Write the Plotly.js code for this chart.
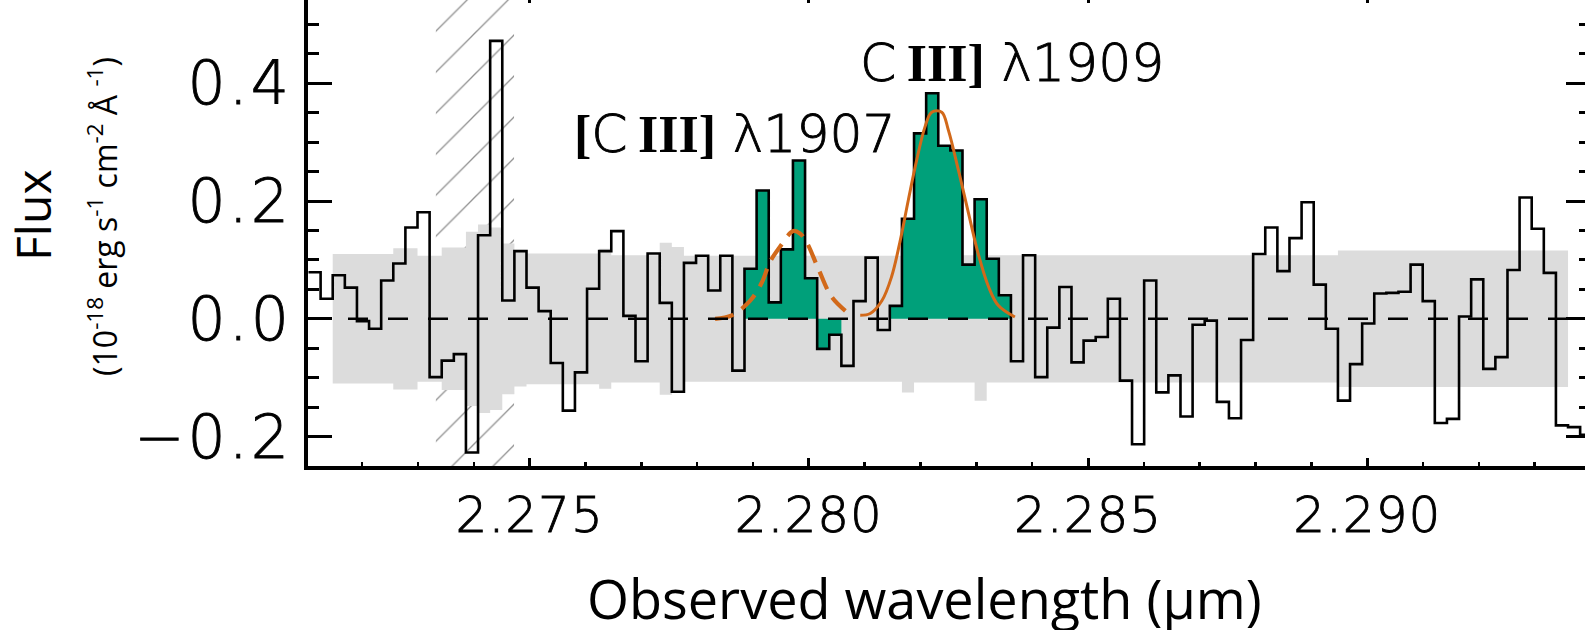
<!DOCTYPE html>
<html><head><meta charset="utf-8">
<script src="https://cdn.plot.ly/plotly-3.0.1.min.js"></script>
<style>
html,body{margin:0;padding:0;overflow:hidden;background:#fff;width:1585px;height:630px;}
#plot{position:absolute;left:0;top:-20px;width:1610px;height:680px;}
.ytick text{stroke:#000;stroke-width:0.9px;letter-spacing:3px;}
.xtick text{stroke:#000;stroke-width:0.9px;letter-spacing:1px;}
</style></head><body><div id="plot"></div>
<script>
// Spectral pixel grid (left edge of first pixel, and dispersion), µm
const waveStart = 2.271039;
const dispersion = 0.0002169;

// Flux per spectral pixel (10^-18 erg s^-1 cm^-2 Å^-1)
const flux = [
 0.079, 0.034, 0.074, 0.053,-0.004,-0.017, 0.065, 0.094, 0.155, 0.181,
-0.099,-0.071,-0.060,-0.227, 0.142, 0.472, 0.031, 0.115, 0.053, 0.013,
-0.075,-0.156,-0.091, 0.051, 0.115, 0.149, 0.005,-0.072, 0.111, 0.027,
-0.124, 0.095, 0.107, 0.048, 0.107,-0.088, 0.085, 0.218, 0.028, 0.118,
 0.269, 0.069,-0.051,-0.027,-0.080, 0.030, 0.104,-0.019, 0.022, 0.170,
 0.315, 0.383, 0.294, 0.286, 0.092, 0.203, 0.102, 0.040,-0.072, 0.108,
-0.099,-0.015, 0.054,-0.074,-0.037,-0.031, 0.034,-0.105,-0.213, 0.065,
-0.125,-0.096,-0.166,-0.010,-0.003,-0.141,-0.169,-0.036, 0.110, 0.155,
 0.081, 0.137, 0.198, 0.058,-0.017,-0.139,-0.077,-0.008, 0.043, 0.044,
 0.046, 0.092, 0.030,-0.177,-0.170, 0.004, 0.067,-0.085,-0.065, 0.083,
 0.206, 0.153, 0.078,-0.181,-0.184,-0.197
];

// 1-sigma noise per spectral pixel (null = not drawn)
const sigma = [
 null, null, 0.110, 0.110, 0.110, 0.110, 0.110, 0.120, 0.120, 0.107,
 0.107, 0.121, 0.121, 0.148, 0.160, 0.155, 0.128, 0.115, 0.111, 0.111,
 0.111, 0.111, 0.111, 0.111, 0.119, 0.108, 0.108, 0.108, 0.108, 0.129,
 0.122, 0.107, 0.107, 0.107, 0.107, 0.107, 0.107, 0.107, 0.107, 0.107,
 0.107, 0.107, 0.107, 0.107, 0.107, 0.107, 0.107, 0.107, 0.107, 0.125,
 0.108, 0.108, 0.108, 0.108, 0.108, 0.139, 0.108, 0.108, 0.108, 0.108,
 0.108, 0.108, 0.108, 0.108, 0.108, 0.108, 0.108, 0.108, 0.108, 0.108,
 0.108, 0.108, 0.108, 0.108, 0.108, 0.108, 0.108, 0.108, 0.108, 0.108,
 0.108, 0.108, 0.108, 0.108, 0.108, 0.116, 0.116, 0.116, 0.116, 0.116,
 0.116, 0.116, 0.116, 0.116, 0.116, 0.116, 0.116, 0.116, 0.116, 0.116,
 0.116, 0.116, 0.116, 0.116, null, null
];
const sigmaBins = [3, 104];

// Pixels attributed to the emission lines (1-based, inclusive)
const lineBins1907 = [37, 44];
const lineBins1909 = [49, 58];

// Gaussian fits
const fit1907Wave = [2.27832, 2.27862, 2.27895, 2.27916, 2.27930, 2.27948, 2.27972, 2.27984, 2.27996, 2.28017, 2.28041, 2.28071];
const fit1907Flux = [0.000, 0.006, 0.031, 0.062, 0.096, 0.122, 0.149, 0.145, 0.130, 0.085, 0.037, 0.009];
const fit1909Wave = [2.28092, 2.28110, 2.28131, 2.28148, 2.28163, 2.28178, 2.28193, 2.28208, 2.28220, 2.28238, 2.28250, 2.28268, 2.28286, 2.28304, 2.28322, 2.28339, 2.28369];
const fit1909Flux = [0.006, 0.009, 0.031, 0.071, 0.130, 0.201, 0.269, 0.326, 0.351, 0.351, 0.320, 0.252, 0.179, 0.108, 0.054, 0.023, 0.003];

// Masked (sky) region
const maskWave = [2.27332, 2.27472];

// Axes
const xRange = [2.27103, 2.29399];
const yRange = [-0.25, 0.55];
const xTickVals = [2.275, 2.280, 2.285, 2.290];
const xTickText = ['2.275', '2.280', '2.285', '2.290'];
const yTickVals = [-0.2, 0.0, 0.2, 0.4];
const yTickText = ['\u22120.2', '0.0', '0.2', '0.4'];

// Labels
const serif = 'font-family:Liberation Serif;font-weight:bold;stroke-width:0';
const lineLabelText = [
  '<span style="' + serif + '">[</span>C\u2009<span style="' + serif + '">III]</span> \u03bb1907',
  'C\u2009<span style="' + serif + '">III]</span> \u03bb1909'
];
const lineLabelPos = [[2.27868, 0.314], [2.28363, 0.435]];
const xTitle = 'Observed wavelength (\u00b5m)';
const yTitle = 'Flux';
const yUnits = '(10<sup>-18</sup> erg s<sup>-1</sup> cm<sup>-2</sup> \u00c5 <sup>-1</sup>)';

function stepXY(vals, first, last, sign) {
  const x = [], y = [];
  const s = sign || 1;
  for (let i = first; i <= last; i++) {
    x.push(waveStart + (i - 1) * dispersion);
    y.push(s * vals[i - 1]);
  }
  x.push(waveStart + last * dispersion);
  y.push(s * vals[last - 1]);
  return {x, y};
}

const green = '#00A07A';
const orange = '#D2691A';
const traces = [];

// hatched mask
traces.push({
  x: [maskWave[0], maskWave[1], maskWave[1], maskWave[0], maskWave[0]],
  y: [yRange[0], yRange[0], yRange[1], yRange[1], yRange[0]],
  mode: 'lines', fill: 'toself', line: {width: 0, color: 'rgba(0,0,0,0)'},
  fillcolor: 'rgba(0,0,0,0)',
  fillpattern: {shape: '/', fgcolor: '#909090', bgcolor: 'rgba(0,0,0,0)', size: 29, solidity: 0.045},
  hoverinfo: 'skip'
});

// noise band
const lo = stepXY(sigma, sigmaBins[0], sigmaBins[1], -1);
const hi = stepXY(sigma, sigmaBins[0], sigmaBins[1], 1);
traces.push({x: lo.x, y: lo.y, mode: 'lines', line: {shape: 'hv', width: 0, color: '#dcdcdc'}});
traces.push({x: hi.x, y: hi.y, mode: 'lines', line: {shape: 'hv', width: 0, color: '#dcdcdc'}, fill: 'tonexty', fillcolor: '#dcdcdc'});

// green line fluxes
[lineBins1907, lineBins1909].forEach(r => {
  const g = stepXY(flux, r[0], r[1]);
  traces.push({x: g.x, y: g.y, mode: 'lines', line: {shape: 'hv', width: 0, color: green}, fill: 'tozeroy', fillcolor: green});
});

// spectrum
const sp = stepXY(flux, 1, flux.length);
traces.push({x: sp.x, y: sp.y, mode: 'lines', line: {shape: 'hv', width: 2.6, color: '#000'}});

// fits
traces.push({x: fit1907Wave, y: fit1907Flux, mode: 'lines', line: {shape: 'spline', smoothing: 1, width: 4.2, color: orange, dash: '19px,10px'}});
traces.push({x: fit1909Wave, y: fit1909Flux, mode: 'lines', line: {shape: 'spline', smoothing: 1, width: 3.0, color: orange}});

const tickFont = {family: 'DejaVu Sans', weight: 200, color: '#000'};

const layout = {
  width: 1610, height: 680,
  margin: {l: 308, r: 20, t: 15, b: 194},
  paper_bgcolor: '#fff', plot_bgcolor: 'rgba(0,0,0,0)',
  showlegend: false,
  xaxis: {
    range: xRange, showgrid: false, zeroline: false,
    showline: true, linewidth: 4, linecolor: '#000', mirror: 'allticks',
    ticks: 'inside', ticklen: 8, tickwidth: 3, tickcolor: '#000',
    tickmode: 'array', tickvals: xTickVals, ticktext: xTickText,
    tickfont: Object.assign({size: 50}, tickFont), ticklabelstandoff: 2,
    minor: {tickmode: 'linear', tick0: 2.271, dtick: 0.001, ticks: 'inside', ticklen: 4, tickwidth: 2.5, tickcolor: '#000', showgrid: false}
  },
  yaxis: {
    range: yRange, showgrid: false, zeroline: false,
    showline: true, linewidth: 4, linecolor: '#000', mirror: 'allticks',
    ticks: 'inside', ticklen: 24, tickwidth: 3, tickcolor: '#000',
    tickmode: 'array', tickvals: yTickVals, ticktext: yTickText,
    tickfont: Object.assign({size: 60}, tickFont), ticklabelstandoff: 0,
    minor: {tickmode: 'linear', tick0: 0, dtick: 0.05, ticks: 'inside', ticklen: 11, tickwidth: 3, tickcolor: '#000', showgrid: false}
  },
  shapes: [{
    type: 'line', xref: 'paper', x0: 0, x1: 1, yref: 'y', y0: 0, y1: 0,
    line: {color: '#000', width: 2.4, dash: '20px,20px'}, layer: 'above'
  }],
  annotations: [
    {text: lineLabelText[0], x: lineLabelPos[0][0], y: lineLabelPos[0][1], xref: 'x', yref: 'y', showarrow: false,
     xanchor: 'center', yanchor: 'middle', font: {family: 'DejaVu Sans', weight: 200, size: 52, color: '#000'}},
    {text: lineLabelText[1], x: lineLabelPos[1][0], y: lineLabelPos[1][1], xref: 'x', yref: 'y', showarrow: false,
     xanchor: 'center', yanchor: 'middle', font: {family: 'DejaVu Sans', weight: 200, size: 52, color: '#000'}},
    {text: xTitle, x: 0.4805, y: -0.2803, xref: 'paper', yref: 'paper', showarrow: false,
     xanchor: 'center', yanchor: 'middle', font: {family: 'Open Sans', size: 54, color: '#000'}},
    {text: yTitle, x: -0.2145, y: 0.531, xref: 'paper', yref: 'paper', showarrow: false, textangle: -90,
     xanchor: 'center', yanchor: 'middle', font: {family: 'Open Sans', size: 48, color: '#000'}},
    {text: yUnits, x: -0.1607, y: 0.531, xref: 'paper', yref: 'paper', showarrow: false, textangle: -90,
     xanchor: 'center', yanchor: 'middle', font: {family: 'Open Sans', size: 32, color: '#000'}}
  ]
};

Plotly.newPlot('plot', traces, layout, {staticPlot: true, displayModeBar: false}).then(function () {
  document.querySelectorAll('.annotation-text').forEach(function (t) {
    if (t.textContent.indexOf('\u03bb') >= 0) {
      t.style.stroke = '#000';
      t.style.strokeWidth = '0.9px';
    }
  });
});
</script></body></html>
